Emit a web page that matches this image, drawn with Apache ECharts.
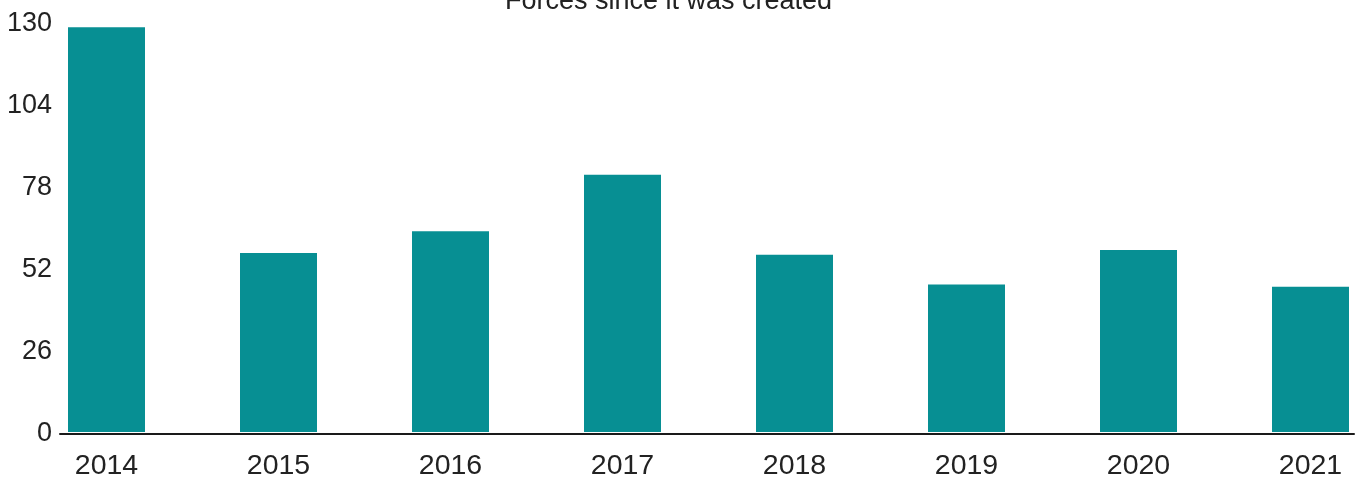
<!DOCTYPE html>
<html><head><meta charset="utf-8">
<script src="https://cdn.jsdelivr.net/npm/echarts@6/dist/echarts.min.js"></script>
<style>html,body{margin:0;padding:0;background:#fff}#c{width:1363px;height:481px}</style>
</head><body><div id="c"></div>
<script>
const titleText = "Forces since it was created";
const categories = ["2014","2015","2016","2017","2018","2019","2020","2021"];
const values = [129, 57, 64, 82, 56.5, 47, 58, 46.3];
const yMin = 0, yMax = 130, yStep = 26;

const font = "Liberation Sans";
const chart = echarts.init(document.getElementById('c'), null, {renderer:'canvas'});
chart.setOption({
  animation:false,
  backgroundColor:'#fff',
  title:{text:titleText,left:500,top:-17,textStyle:{fontFamily:font,fontSize:27,fontWeight:'normal',color:'#222'}},
  grid:[
    {left:106.5,right:52.5,top:24,bottom:47},
    {left:60,right:9,top:24,bottom:47}
  ],
  xAxis:[
    {type:'category',gridIndex:0,data:categories,boundaryGap:false,
     axisLine:{show:false},axisTick:{show:false},
     axisLabel:{fontFamily:font,fontSize:28.5,color:'#222',margin:20,interval:0}},
    {type:'value',gridIndex:1,min:0,max:1,axisLine:{show:true,lineStyle:{color:'#1a1a1a',width:2}},
     axisTick:{show:false},axisLabel:{show:false},splitLine:{show:false}}
  ],
  yAxis:[
    {type:'value',gridIndex:0,min:yMin,max:yMax,interval:yStep,show:false,splitLine:{show:false}},
    {type:'value',gridIndex:1,min:yMin,max:yMax,interval:yStep,
     axisLine:{show:false},axisTick:{show:false},splitLine:{show:false},
     axisLabel:{fontFamily:font,fontSize:27,color:'#222',margin:8}}
  ],
  series:[{type:'bar',xAxisIndex:0,yAxisIndex:0,data:values,barWidth:77,
    itemStyle:{color:'#078f93'}}]
});
</script></body></html>
